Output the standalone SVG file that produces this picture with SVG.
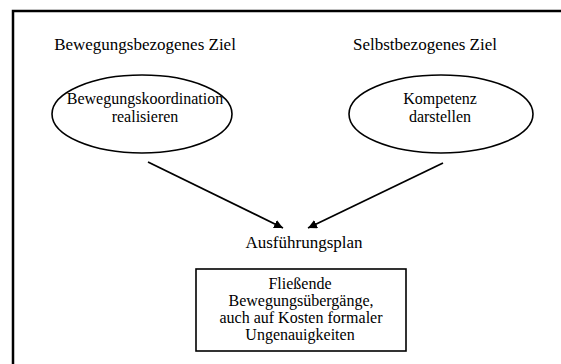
<svg xmlns="http://www.w3.org/2000/svg" width="561" height="364" viewBox="0 0 561 364">
<defs>
<style>
text{font-family:"Liberation Serif","Times New Roman",serif;font-size:17px;fill:#000;text-anchor:middle}
.box text,.ell text{font-size:16px}
.frame{fill:none;stroke:#000;stroke-width:2.5}
.node{fill:#fff;stroke:#000;stroke-width:1.6}
.conn{fill:none;stroke:#000;stroke-width:1.8}
</style>
<marker id="arr" viewBox="0 0 10 10" refX="10" refY="5" markerWidth="9" markerHeight="9" markerUnits="userSpaceOnUse" orient="auto">
<path d="M0,0 L10,5 L0,10 z" fill="#000"/>
</marker>
</defs>
<rect width="561" height="364" fill="#fff"/>
<path class="frame" d="M13,364 V11 H561"/>
<g id="title-left"><text x="145" y="50">Bewegungsbezogenes Ziel</text></g>
<g id="title-right"><text x="425" y="50">Selbstbezogenes Ziel</text></g>
<g id="node-bewegung" class="ell">
<ellipse class="node" cx="142" cy="114" rx="90" ry="39"/>
<text x="145" y="104">Bewegungskoordination</text>
<text x="145" y="122">realisieren</text>
</g>
<g id="node-kompetenz" class="ell">
<ellipse class="node" cx="441" cy="114" rx="92" ry="39"/>
<text x="440" y="104">Kompetenz</text>
<text x="440" y="122">darstellen</text>
</g>
<g id="connectors">
<path class="conn" d="M148,162 L283,228" marker-end="url(#arr)"/>
<path class="conn" d="M443,163 L308,228" marker-end="url(#arr)"/>
</g>
<g id="label-plan"><text x="304" y="248">Ausführungsplan</text></g>
<g id="node-plan" class="box">
<rect class="node" x="196" y="269" width="210" height="82"/>
<text x="300" y="289">Fließende</text>
<text x="301" y="306">Bewegungsübergänge,</text>
<text x="301" y="323">auch auf Kosten formaler</text>
<text x="300" y="340">Ungenauigkeiten</text>
</g>
</svg>
